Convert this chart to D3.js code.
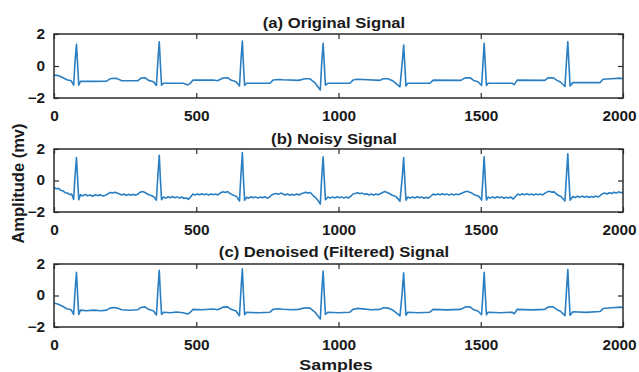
<!DOCTYPE html>
<html>
<head>
<meta charset="utf-8">
<script src="https://cdn.jsdelivr.net/npm/d3@7"></script>
<style>
  body { margin: 0; background: #fff; }
  svg { display: block; }
  text { font-family: "Liberation Sans", Arial, sans-serif; font-weight: bold; fill: #1a1a1a; }
</style>
</head>
<body>
<svg id="chart" width="639" height="372"></svg>
<script>
// tick labels
const xTicks = [0, 500, 1000, 1500, 2000]
const yTicks = [-2, 0, 2]
const titles = ['(a) Original Signal', '(b) Noisy Signal', '(c) Denoised (Filtered) Signal']

// [sample, mV] vertices
const original = [
  [0,-0.56],[15,-0.6],[30,-0.72],[45,-0.86],[60,-0.92],[69,-1.2],[74,0.3],[79,1.36],[83,0.1],[87,-1.2],
  [93,-0.95],[140,-0.96],[185,-0.95],[197,-0.8],[210,-0.77],[222,-0.79],[238,-0.92],[295,-0.92],[306,-0.76],[320,-0.73],
  [332,-0.9],[350,-0.98],[360,-1.22],[365,0.3],[370,1.52],[374,0.1],[378,-1.2],[385,-1.08],[454,-1.08],[470,-1.18],
  [478,-1.1],[489,-0.88],[560,-0.88],[575,-0.92],[594,-0.75],[610,-0.73],[622,-0.88],[640,-0.98],[652,-1.25],[657,0.3],
  [662,1.56],[666,0.1],[670,-1.22],[677,-1.08],[759,-1.08],[770,-0.88],[790,-0.84],[805,-0.86],[860,-0.9],[882,-0.8],
  [900,-0.8],[917,-1.05],[936,-1.5],[941,0.2],[946,1.42],[950,0.1],[954,-1.2],[963,-1.08],[1040,-1.08],[1051,-0.88],
  [1064,-0.83],[1086,-0.84],[1146,-0.9],[1157,-0.8],[1174,-0.8],[1190,-0.92],[1216,-1.3],[1224,0.2],[1229,1.31],[1233,0.1],
  [1237,-1.25],[1244,-1.08],[1321,-1.08],[1333,-0.88],[1430,-0.9],[1445,-0.74],[1462,-0.73],[1475,-0.9],[1490,-0.98],[1503,-1.22],
  [1508,0.2],[1512,1.42],[1516,0.1],[1520,-1.22],[1526,-1.08],[1610,-1.08],[1618,-1.16],[1628,-0.88],[1725,-0.9],[1737,-0.74],
  [1754,-0.73],[1768,-0.9],[1780,-1.0],[1796,-1.28],[1801,0.2],[1806,1.52],[1810,0.1],[1814,-1.25],[1824,-1.04],[1919,-1.04],
  [1930,-0.83],[1960,-0.8],[1990,-0.76],[2000,-0.8]
]

const noisy = [
  [0,-0.45],[8,-0.52],[16,-0.5],[24,-0.62],[32,-0.66],[40,-0.78],[48,-0.8],[56,-0.9],[62,-0.86],[69,-1.2],
  [74,0.3],[79,1.45],[83,0.1],[87,-1.22],[93,-0.9],[101,-0.98],[110,-0.88],[118,-0.97],[127,-0.92],[136,-1.0],
  [145,-0.9],[154,-0.96],[163,-0.91],[172,-0.99],[181,-0.93],[190,-0.84],[198,-0.76],[206,-0.8],[214,-0.74],[222,-0.8],
  [230,-0.86],[238,-0.92],[246,-0.86],[254,-0.95],[262,-0.88],[270,-0.94],[278,-0.87],[286,-0.93],[295,-0.86],[303,-0.74],
  [311,-0.7],[320,-0.76],[328,-0.86],[336,-0.92],[344,-0.97],[352,-1.06],[360,-1.25],[365,0.3],[370,1.6],[374,0.1],
  [378,-1.22],[385,-1.05],[393,-1.12],[401,-1.03],[409,-1.1],[417,-1.02],[425,-1.1],[433,-1.04],[441,-1.12],[449,-1.05],
  [457,-1.14],[465,-1.1],[472,-1.2],[480,-1.05],[488,-0.86],[496,-0.92],[504,-0.85],[512,-0.91],[520,-0.84],[528,-0.9],
  [536,-0.86],[544,-0.93],[552,-0.85],[560,-0.9],[568,-0.86],[576,-0.92],[584,-0.8],[594,-0.72],[602,-0.76],[610,-0.7],
  [618,-0.82],[626,-0.9],[634,-0.96],[642,-1.02],[652,-1.3],[657,0.3],[662,1.77],[666,0.1],[670,-1.25],[677,-1.06],
  [685,-1.12],[693,-1.03],[701,-1.1],[709,-1.04],[717,-1.12],[725,-1.05],[733,-1.1],[741,-1.03],[749,-1.12],[757,-1.06],
  [765,-0.92],[773,-0.86],[781,-0.82],[789,-0.88],[797,-0.8],[805,-0.86],[813,-0.92],[821,-0.86],[829,-0.94],[837,-0.87],
  [845,-0.93],[853,-0.86],[861,-0.92],[869,-0.84],[877,-0.8],[885,-0.74],[893,-0.8],[901,-0.76],[909,-0.92],[917,-1.05],
  [925,-1.2],[936,-1.5],[941,0.2],[946,1.5],[950,0.1],[954,-1.22],[963,-1.05],[971,-1.12],[979,-1.04],[987,-1.11],
  [995,-1.03],[1003,-1.1],[1011,-1.04],[1019,-1.12],[1027,-1.05],[1035,-1.11],[1043,-1.0],[1051,-0.86],[1059,-0.82],[1067,-0.78],
  [1075,-0.84],[1083,-0.8],[1091,-0.88],[1099,-0.84],[1107,-0.92],[1115,-0.86],[1123,-0.93],[1131,-0.86],[1139,-0.91],[1147,-0.84],
  [1155,-0.76],[1163,-0.7],[1171,-0.76],[1179,-0.82],[1187,-0.92],[1195,-0.97],[1203,-1.04],[1216,-1.32],[1224,0.2],[1229,1.45],
  [1233,0.1],[1237,-1.25],[1244,-1.05],[1252,-1.12],[1260,-1.04],[1268,-1.11],[1276,-1.03],[1284,-1.1],[1292,-1.05],[1300,-1.13],
  [1308,-1.06],[1316,-1.12],[1324,-1.0],[1333,-0.86],[1341,-0.92],[1349,-0.85],[1357,-0.91],[1365,-0.84],[1373,-0.9],[1381,-0.86],
  [1389,-0.93],[1397,-0.85],[1405,-0.92],[1413,-0.86],[1421,-0.9],[1429,-0.84],[1437,-0.78],[1445,-0.72],[1453,-0.68],[1461,-0.74],
  [1469,-0.8],[1477,-0.9],[1485,-0.95],[1493,-1.0],[1503,-1.24],[1508,0.2],[1512,1.5],[1516,0.1],[1520,-1.24],[1526,-1.05],
  [1534,-1.12],[1542,-1.04],[1550,-1.11],[1558,-1.03],[1566,-1.1],[1574,-1.05],[1582,-1.13],[1590,-1.06],[1598,-1.11],[1606,-1.05],
  [1614,-1.18],[1622,-1.02],[1630,-0.86],[1638,-0.92],[1646,-0.85],[1654,-0.9],[1662,-0.84],[1670,-0.91],[1678,-0.86],[1686,-0.93],
  [1694,-0.85],[1702,-0.9],[1710,-0.86],[1718,-0.92],[1726,-0.8],[1734,-0.72],[1742,-0.68],[1750,-0.74],[1758,-0.72],[1766,-0.86],
  [1774,-0.95],[1782,-1.02],[1796,-1.3],[1801,0.2],[1806,1.7],[1810,0.1],[1814,-1.25],[1824,-1.02],[1832,-1.08],[1840,-1.0],
  [1848,-1.07],[1856,-0.99],[1864,-1.06],[1872,-1.0],[1880,-1.08],[1888,-1.01],[1896,-1.06],[1904,-0.99],[1912,-1.05],[1920,-0.96],
  [1928,-0.84],[1936,-0.8],[1944,-0.86],[1952,-0.78],[1960,-0.82],[1968,-0.75],[1976,-0.8],[1984,-0.72],[1992,-0.78],[2000,-0.74]
]

const denoised = [
  [0,-0.48],[15,-0.55],[30,-0.68],[45,-0.84],[60,-0.9],[69,-1.2],[74,0.3],[79,1.47],[83,0.1],[87,-1.2],
  [93,-0.93],[115,-0.97],[140,-0.93],[165,-0.97],[185,-0.93],[197,-0.8],[210,-0.76],[222,-0.8],[238,-0.9],[265,-0.94],
  [295,-0.9],[306,-0.76],[320,-0.72],[332,-0.88],[350,-0.98],[360,-1.24],[365,0.3],[370,1.6],[374,0.1],[378,-1.2],
  [385,-1.06],[410,-1.1],[430,-1.05],[454,-1.1],[470,-1.18],[478,-1.08],[489,-0.88],[520,-0.9],[560,-0.86],[575,-0.9],
  [594,-0.74],[610,-0.72],[622,-0.88],[640,-0.98],[652,-1.28],[657,0.3],[662,1.69],[666,0.1],[670,-1.22],[677,-1.06],
  [720,-1.1],[759,-1.06],[770,-0.88],[790,-0.84],[805,-0.87],[835,-0.9],[860,-0.88],[882,-0.78],[900,-0.8],[917,-1.05],
  [936,-1.5],[941,0.2],[946,1.55],[950,0.1],[954,-1.2],[963,-1.06],[1000,-1.1],[1040,-1.06],[1051,-0.88],[1064,-0.82],
  [1086,-0.85],[1115,-0.9],[1146,-0.88],[1157,-0.78],[1174,-0.8],[1190,-0.92],[1216,-1.3],[1224,0.2],[1229,1.44],[1233,0.1],
  [1237,-1.25],[1244,-1.06],[1280,-1.1],[1321,-1.06],[1333,-0.88],[1380,-0.91],[1430,-0.88],[1445,-0.73],[1462,-0.72],[1475,-0.9],
  [1490,-0.98],[1503,-1.22],[1508,0.2],[1512,1.47],[1516,0.1],[1520,-1.22],[1526,-1.06],[1570,-1.1],[1610,-1.06],[1618,-1.16],
  [1628,-0.88],[1680,-0.91],[1725,-0.88],[1737,-0.73],[1754,-0.72],[1768,-0.9],[1780,-1.0],[1796,-1.28],[1801,0.2],[1806,1.65],
  [1810,0.1],[1814,-1.25],[1824,-1.03],[1870,-1.07],[1919,-1.02],[1930,-0.83],[1960,-0.78],[1990,-0.74],[2000,-0.76]
]

const signals = [original, noisy, denoised]

const LEFT = 54
const RIGHT = 623
const PANEL_TOPS = [34, 149, 264]
const PANEL_HEIGHTS = [64, 63, 63]
const TITLE_BASELINES = [27.5, 144, 256.5]
const TICK_LEN = 5
const STRETCH = 1.19      // the reference text is widened horizontally
const TICK_STRETCH = 1.1
const LINE_BLUE = '#2a7fc3'
const AXIS_GREY = '#2b2b2b'

const svg = d3.select('#chart')

const x = d3.scaleLinear().domain([0, 2000]).range([LEFT, RIGHT])

signals.forEach((data, i) => {
  const top = PANEL_TOPS[i]
  const bottom = top + PANEL_HEIGHTS[i]
  const y = d3.scaleLinear().domain([-2, 2]).range([bottom, top])
  const g = svg.append('g')

  g.append('path')
    .datum(data)
    .attr('fill', 'none')
    .attr('stroke', LINE_BLUE)
    .attr('stroke-width', 1.6)
    .attr('stroke-linejoin', 'round')
    .attr('d', d3.line().x(d => x(d[0])).y(d => y(d[1])))

  // bottom axis with labels
  const xb = g.append('g')
    .attr('transform', `translate(0, ${bottom})`)
    .call(d3.axisBottom(x).tickValues(xTicks).tickSize(-TICK_LEN).tickPadding(13).tickFormat(d3.format('d')))
  // top axis, ticks only
  const xt = g.append('g')
    .attr('transform', `translate(0, ${top})`)
    .call(d3.axisTop(x).tickValues(xTicks).tickSize(-TICK_LEN).tickFormat(''))
  const yl = g.append('g')
    .attr('transform', `translate(${LEFT}, 0)`)
    .call(d3.axisLeft(y).tickValues(yTicks).tickSize(-TICK_LEN).tickPadding(9).tickFormat(d3.format('d')))
  const yr = g.append('g')
    .attr('transform', `translate(${RIGHT}, 0)`)
    .call(d3.axisRight(y).tickValues(yTicks).tickSize(-TICK_LEN).tickFormat(''))

  ;[xb, xt, yl, yr].forEach(ax => {
    ax.select('.domain').remove()
    ax.selectAll('line').attr('stroke', AXIS_GREY).attr('stroke-width', 1.2)
    ax.selectAll('text')
      .attr('font-size', '14px')
      .attr('font-family', null)
      .attr('fill', '#1a1a1a')
  })
  xb.selectAll('text')
    .attr('x', d => d === 2000 ? -4 / TICK_STRETCH : 0)
    .attr('transform', `scale(${TICK_STRETCH},1)`)
  yl.selectAll('text')
    .attr('x', -9 / TICK_STRETCH)
    .attr('transform', `scale(${TICK_STRETCH},1)`)

  g.append('rect')
    .attr('x', LEFT)
    .attr('y', top)
    .attr('width', RIGHT - LEFT)
    .attr('height', bottom - top)
    .attr('fill', 'none')
    .attr('stroke', AXIS_GREY)
    .attr('stroke-width', 1.5)

  g.append('text')
    .attr('transform', `translate(334, ${TITLE_BASELINES[i]}) scale(${STRETCH},1)`)
    .attr('text-anchor', 'middle')
    .attr('font-size', '14px')
    .text(titles[i])
})

svg.append('text')
  .attr('transform', `translate(336, 370) scale(${STRETCH},1)`)
  .attr('text-anchor', 'middle')
  .attr('font-size', '15px')
  .text('Samples')

svg.append('text')
  .attr('transform', 'translate(24, 183.5) rotate(-90)')
  .attr('text-anchor', 'middle')
  .attr('font-size', '16.5px')
  .text('Amplitude (mv)')
</script>
</body>
</html>
